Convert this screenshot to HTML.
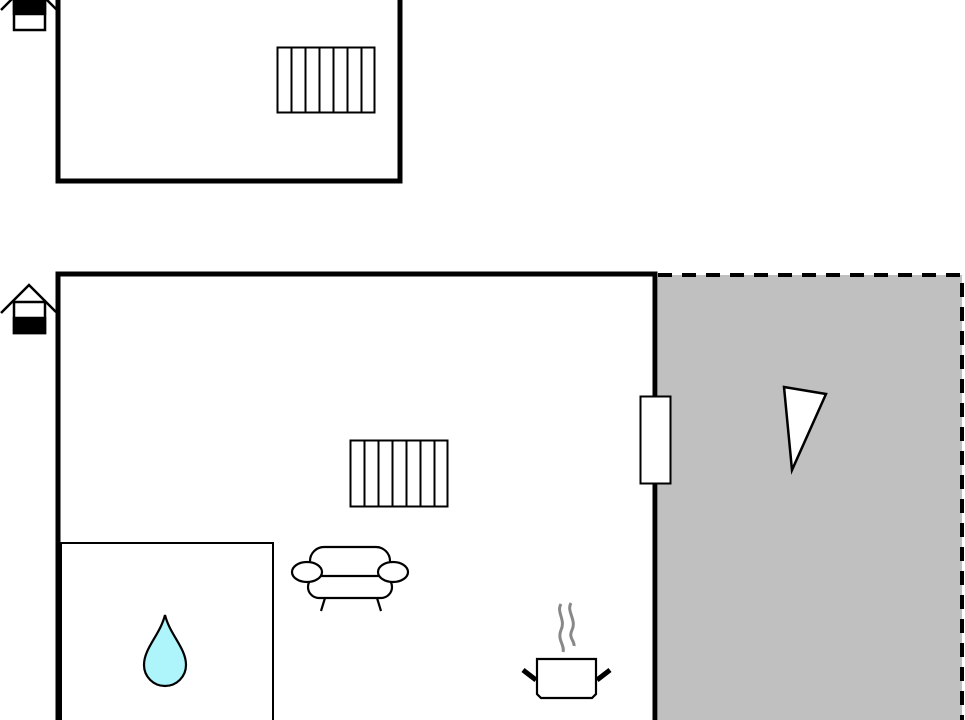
<!DOCTYPE html>
<html><head><style>html,body{margin:0;padding:0;background:#fff}svg{display:block}</style></head>
<body>
<svg width="965" height="720" viewBox="0 0 965 720" xmlns="http://www.w3.org/2000/svg">
<rect x="658" y="275" width="304" height="450" fill="#c0c0c0"/>
<path d="M658 275 H962 V720" fill="none" stroke="#000" stroke-width="4" stroke-dasharray="14,10"/>
<!-- top room -->
<path d="M58 -5 V181 H400 V-5" fill="none" stroke="#000" stroke-width="5"/>
<!-- main room -->
<path d="M58 725 V274 H655 V725" fill="none" stroke="#000" stroke-width="5"/>
<rect x="61" y="543" width="212" height="190" fill="none" stroke="#000" stroke-width="2"/>
<!-- door -->
<rect x="640.5" y="396.5" width="30" height="87" fill="#fff" stroke="#000" stroke-width="2"/>
<!-- triangle -->
<polygon points="784,387 826,394 792,470" fill="#fff" stroke="#000" stroke-width="2.5"/>
<!-- radiators -->
<g fill="#fff" stroke="#000" stroke-width="2">
<rect x="277.5" y="47.5" width="97" height="65"/>
<path d="M291.5 47.5V112.5M305.5 47.5V112.5M319.5 47.5V112.5M333.5 47.5V112.5M347.5 47.5V112.5M361.5 47.5V112.5"/>
<rect x="350.5" y="440.5" width="97" height="66"/>
<path d="M364.5 440.5V506.5M378.5 440.5V506.5M392.5 440.5V506.5M406.5 440.5V506.5M420.5 440.5V506.5M434.5 440.5V506.5"/>
</g>
<!-- house icons -->
<g stroke="#000" stroke-width="2.5" fill="none">
<path d="M1 10 L29 -18 L57 10"/>
<rect x="14" y="-2" width="31" height="32" fill="#fff"/>
<rect x="14" y="-2" width="31" height="16" fill="#000"/>
<path d="M1 313 L29 285 L56 312"/>
<rect x="14" y="302" width="31" height="31" fill="#fff"/>
<rect x="14" y="318" width="31" height="15" fill="#000"/>
</g>
<!-- sofa -->
<g stroke="#000" stroke-width="2.2" fill="#fff">
<rect x="310" y="547" width="80" height="34" rx="14"/>
<rect x="308" y="576" width="84" height="22" rx="11"/>
<ellipse cx="307" cy="572" rx="15" ry="10"/>
<ellipse cx="393" cy="572" rx="15" ry="10"/>
<path d="M325 598 L321 611 M377 598 L381 611" fill="none"/>
</g>
<!-- pot -->
<g>
<path d="M561 604 C556 612,566 620,561 630 C557 640,565 645,563 652 M571 603 C566 611,577 620,572 630 C568 638,575 641,574 646" fill="none" stroke="#888" stroke-width="3"/>
<path d="M537 659 H596 V694 L592 698 H541 L537 694 Z" fill="#fff" stroke="#000" stroke-width="2.2"/>
<path d="M523 670 L536 680 M610 670 L597 680" stroke="#000" stroke-width="5"/>
</g>
<!-- drop -->
<path d="M165 615 C160 635,144 648,144 665 A21 21 0 0 0 186 665 C186 648,170 635,165 615 Z" fill="#aef4fb" stroke="#000" stroke-width="2.2"/>
</svg>
</body></html>
